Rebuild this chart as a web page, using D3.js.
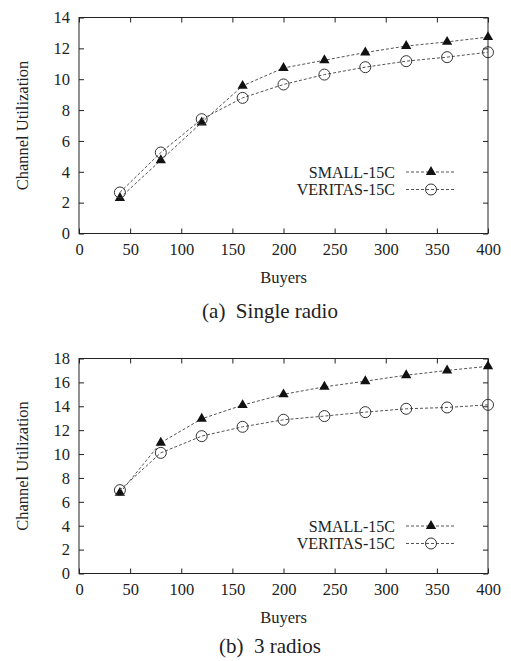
<!DOCTYPE html>
<html>
<head>
<meta charset="utf-8">
<script src="https://cdn.jsdelivr.net/npm/d3@7"></script>
<style>
  body { margin: 0; background: #fff; }
  svg text { font-family: 'Liberation Serif', 'Times New Roman', serif; fill: #222; }
</style>
</head>
<body>
<svg id="chart" width="511" height="661"></svg>
<script>
// data
const buyers = [40, 80, 120, 160, 200, 240, 280, 320, 360, 400];
const smallSingle = [2.3, 4.75, 7.2, 9.57, 10.73, 11.23, 11.73, 12.15, 12.42, 12.73];
const veritasSingle = [2.66, 5.25, 7.41, 8.79, 9.66, 10.3, 10.78, 11.17, 11.43, 11.75];
const small3 = [6.75, 10.95, 12.95, 14.1, 15.0, 15.63, 16.1, 16.6, 17.0, 17.35];
const veritas3 = [6.98, 10.1, 11.5, 12.28, 12.87, 13.18, 13.51, 13.79, 13.9, 14.12];
const xTicks = [0, 50, 100, 150, 200, 250, 300, 350, 400];
const yTicksSingle = [0, 2, 4, 6, 8, 10, 12, 14];
const yTicks3 = [0, 2, 4, 6, 8, 10, 12, 14, 16, 18];
const seriesNames = ['SMALL-15C', 'VERITAS-15C'];

const svg = d3.select('#chart');
const left = 79;
const right = 488;
const tick = 5;
const serif = "'Liberation Serif', 'Times New Roman', serif";

function drawPanel(cfg) {
  const x = d3.scaleLinear().domain([0, 400]).range([left, right]);
  const y = d3.scaleLinear().domain([0, cfg.yMax]).range([cfg.bottom, cfg.top]);
  const g = svg.append('g');

  // frame
  g.append('rect')
    .attr('x', left)
    .attr('y', cfg.top)
    .attr('width', right - left)
    .attr('height', cfg.bottom - cfg.top)
    .attr('fill', 'none')
    .attr('stroke', '#222')
    .attr('stroke-width', 1);

  // axes with inward ticks, mirrored on top/right
  const axB = g.append('g').attr('transform', `translate(0,${cfg.bottom})`)
    .call(d3.axisBottom(x).tickValues(xTicks).tickSize(-tick).tickPadding(10).tickFormat(d3.format('d')));
  const axT = g.append('g').attr('transform', `translate(0,${cfg.top})`)
    .call(d3.axisTop(x).tickValues(xTicks).tickSize(-tick).tickFormat(''));
  const axL = g.append('g').attr('transform', `translate(${left},0)`)
    .call(d3.axisLeft(y).tickValues(cfg.yTicks).tickSize(-tick).tickPadding(9).tickFormat(d3.format('d')));
  const axR = g.append('g').attr('transform', `translate(${right},0)`)
    .call(d3.axisRight(y).tickValues(cfg.yTicks).tickSize(-tick).tickFormat(''));
  [axB, axT, axL, axR].forEach((a) => {
    a.attr('font-family', serif);
    a.select('.domain').remove();
    a.selectAll('line').attr('stroke', '#222');
    a.selectAll('text').attr('font-size', 16.5).attr('fill', '#222');
  });

  // axis titles
  g.append('text')
    .attr('x', (left + right) / 2)
    .attr('y', cfg.bottom + 49)
    .attr('text-anchor', 'middle')
    .attr('font-size', 16.5)
    .text('Buyers');
  g.append('text')
    .attr('transform', `translate(28,${(cfg.top + cfg.bottom) / 2}) rotate(-90)`)
    .attr('text-anchor', 'middle')
    .attr('font-size', 16.5)
    .text('Channel Utilization');
  g.append('text')
    .attr('x', 270)
    .attr('y', cfg.bottom + cfg.captionOffset)
    .attr('text-anchor', 'middle')
    .attr('font-size', 21)
    .attr('xml:space', 'preserve')
    .style('white-space', 'pre')
    .text(cfg.caption);

  const line = d3.line().x((d) => x(d[0])).y((d) => y(d[1]));
  const series = [
    { name: seriesNames[0], vals: cfg.small, mark: 'tri' },
    { name: seriesNames[1], vals: cfg.veritas, mark: 'circ' },
  ];

  function marker(sel, kind) {
    if (kind === 'tri') {
      sel.append('path')
        .attr('d', d3.symbol().type(d3.symbolTriangle).size(46)())
        .attr('fill', '#111');
    } else {
      sel.append('circle')
        .attr('r', 5.5)
        .attr('fill', 'none')
        .attr('stroke', '#333')
        .attr('stroke-width', 1);
    }
  }

  series.forEach((s, k) => {
    const pts = buyers.map((b, i) => [b, s.vals[i]]);
    g.append('path')
      .attr('d', line(pts))
      .attr('fill', 'none')
      .attr('stroke', '#555')
      .attr('stroke-width', 1)
      .attr('stroke-dasharray', '3,2');
    pts.forEach((p) => {
      const m = g.append('g').attr('transform', `translate(${x(p[0])},${y(p[1])})`);
      marker(m, s.mark);
    });

    // legend entry
    const ly = cfg.legendY + k * 17.5;
    g.append('text')
      .attr('x', 395)
      .attr('y', ly + 5.5)
      .attr('text-anchor', 'end')
      .attr('font-size', 16)
      .text(s.name);
    g.append('line')
      .attr('x1', 406).attr('x2', 456)
      .attr('y1', ly).attr('y2', ly)
      .attr('stroke', '#555')
      .attr('stroke-dasharray', '3,2');
    const lm = g.append('g').attr('transform', `translate(431,${ly})`);
    marker(lm, s.mark);
  });
}

drawPanel({
  top: 17.5, bottom: 233.5, yMax: 14, yTicks: yTicksSingle,
  small: smallSingle, veritas: veritasSingle,
  legendY: 172, caption: '(a)  Single radio', captionOffset: 84,
});

drawPanel({
  top: 358.5, bottom: 573.5, yMax: 18, yTicks: yTicks3,
  small: small3, veritas: veritas3,
  legendY: 526, caption: '(b)  3 radios', captionOffset: 79.5,
});
</script>
</body>
</html>
